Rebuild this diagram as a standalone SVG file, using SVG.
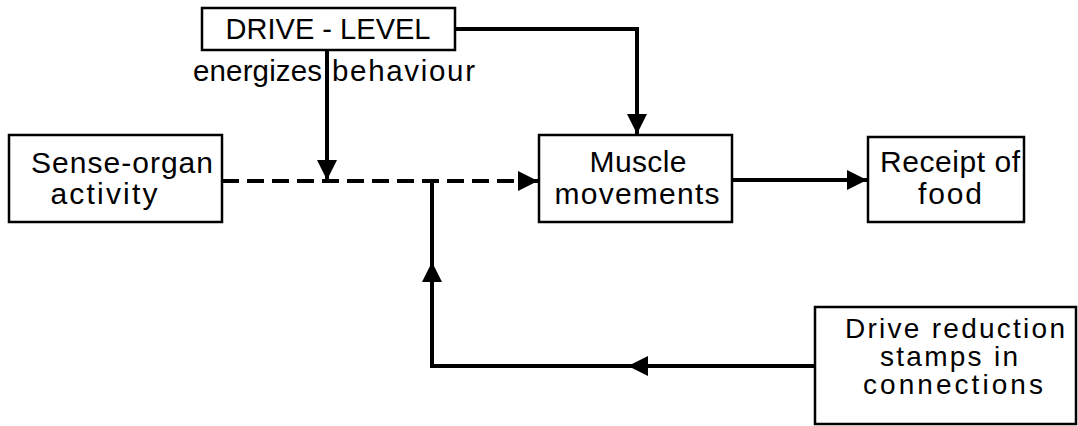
<svg xmlns="http://www.w3.org/2000/svg" width="1078" height="426" viewBox="0 0 1078 426">
<style>
.box{fill:#fff;stroke:#000;stroke-width:2.5}
.t{font-family:"Liberation Sans",Arial,sans-serif;font-size:30px;fill:#000;text-anchor:middle}
.dl{font-size:29px}
.sm{font-size:28px}
.lbl{font-family:"Liberation Sans",Arial,sans-serif;font-size:29.5px;fill:#000}
.ln{fill:none;stroke:#000;stroke-width:4}
.dash{stroke-dasharray:17 8}
</style>
<defs>
<marker id="ah" markerUnits="userSpaceOnUse" markerWidth="22" markerHeight="22" refX="20" refY="10" orient="auto">
<path d="M0,0 L20,10 L0,20 z" fill="#000"/>
</marker>
</defs>
<rect width="1078" height="426" fill="#fff"/>
<g id="connectors">
<path class="ln" d="M327,50 V180" marker-end="url(#ah)"/>
<path class="ln" d="M455,29 H637 V134" marker-end="url(#ah)"/>
<path class="ln dash" d="M222,181 H538" marker-end="url(#ah)"/>
<path class="ln" d="M732,180 H867" marker-end="url(#ah)"/>
<path class="ln" d="M815,366 H628" marker-end="url(#ah)"/>
<path class="ln" d="M640,366 H432 V262" marker-end="url(#ah)"/>
<path class="ln" d="M432,270 V181"/>
</g>
<g id="drive-level">
<rect class="box" x="202" y="8" width="253" height="42"/>
<text class="t dl" x="328" y="39" textLength="205">DRIVE - LEVEL</text>
</g>
<g id="energizes-label">
<text class="lbl" x="193" y="81" textLength="129">energizes</text>
<text class="lbl" x="332" y="81" textLength="143">behaviour</text>
</g>
<g id="sense-organ">
<rect class="box" x="9" y="135" width="213" height="87"/>
<text class="t" x="122" y="173" textLength="182">Sense-organ</text>
<text class="t" x="104" y="204" textLength="107">activity</text>
</g>
<g id="muscle">
<rect class="box" x="539" y="135" width="193" height="87"/>
<text class="t" x="638" y="172" textLength="97">Muscle</text>
<text class="t" x="637" y="204" textLength="165">movements</text>
</g>
<g id="receipt">
<rect class="box" x="868" y="137" width="156" height="85"/>
<text class="t" x="950" y="172" textLength="140">Receipt of</text>
<text class="t" x="950" y="204" textLength="64">food</text>
</g>
<g id="drive-reduction">
<rect class="box" x="815" y="307" width="261" height="117"/>
<text class="t sm" x="955" y="338" textLength="220">Drive reduction</text>
<text class="t sm" x="949" y="366" textLength="138">stamps in</text>
<text class="t sm" x="953" y="394" textLength="180">connections</text>
</g>
</svg>
